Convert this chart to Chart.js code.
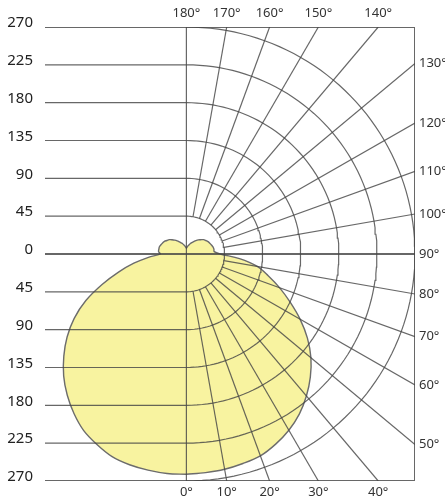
<!DOCTYPE html>
<html>
<head>
<meta charset="utf-8">
<script src="https://cdn.jsdelivr.net/npm/chart.js@4.4.1/dist/chart.umd.min.js"></script>
<style>
  html, body { margin: 0; padding: 0; background: #fff; }
  #contenedor { width: 445px; height: 501px; }
</style>
</head>
<body>
<div id="contenedor"><canvas id="grafico"></canvas></div>
<script>
// Angulos gamma (0 = hacia abajo, 180 = hacia arriba)
const angulos = [0, 5, 10, 15, 20, 25, 30, 35, 40, 45, 50, 55, 60, 65, 70, 75, 80, 85, 90,
                 95, 100, 105, 110, 115, 120, 125, 130, 135, 140, 145, 150, 155, 160, 165, 170, 175, 180];
const planoIzq = [262, 262, 261, 259.5, 256.5, 250, 242.5, 231.5, 219, 205, 189, 172, 153, 131, 106, 83, 63, 45, 31,
                  33, 33, 33, 32, 31, 30, 28, 26.5, 24, 21.5, 19, 16.5, 14.5, 13, 11, 9.5, 8, 7];
const planoDer = [262, 261, 260, 258, 255.5, 249.5, 242, 232.5, 220.5, 207, 192, 174.5, 155, 135, 117, 100, 85, 63, 40,
                  33, 33, 32.5, 31.5, 30.5, 29.5, 28, 26.5, 24, 22, 19.5, 17, 15, 13, 11, 9.5, 8, 7];

// Escala y rejilla
const anillos = [45, 90, 135, 180, 225, 270];
const radiales = [10, 20, 30, 40, 50, 60, 70, 80, 100, 110, 120, 130, 140, 150, 160, 170];
const marcasY = [-270, -225, -180, -135, -90, -45, 0, 45, 90, 135, 180, 225, 270];
const angulosAbajo = [0, 10, 20, 30, 40];
const angulosArriba = [180, 170, 160, 150, 140];
const angulosDerecha = [130, 120, 110, 100, 90, 80, 70, 60, 50];

const rMax = 270;
const xMin = -167;
const rad = Math.PI / 180;

function polar(r, a, lado) {
    return { x: lado * r * Math.sin(a * rad), y: -r * Math.cos(a * rad) };
}

function linea(puntos, ancho) {
    return {
        data: puntos,
        showLine: true,
        borderColor: 'rgba(70,70,70,0.82)',
        borderWidth: ancho,
        pointRadius: 0,
        fill: false,
        order: 1
    };
}

const datasets = [];

// Curva de distribucion (cerrada)
const curva = [];
angulos.forEach((a, i) => curva.push(polar(planoDer[i], a, 1)));
for (let i = angulos.length - 1; i >= 0; i--) curva.push(polar(planoIzq[i], angulos[i], -1));
datasets.push({
    data: curva,
    showLine: true,
    tension: 0.35,
    borderColor: '#6c6c6c',
    borderWidth: 1.4,
    backgroundColor: '#f8f3a0',
    fill: 'shape',
    pointRadius: 0,
    order: 5
});

// Arcos en la mitad derecha
anillos.forEach(r => {
    const pts = [];
    for (let a = 0; a <= 180; a += 2) pts.push(polar(r, a, 1));
    datasets.push(linea(pts, 1.2));
});

// Lineas radiales desde el primer anillo hasta el borde
radiales.forEach(a => {
    const s = Math.sin(a * rad), c = Math.abs(Math.cos(a * rad));
    const t = Math.min(rMax / s, c > 1e-9 ? rMax / c : Infinity);
    datasets.push(linea([polar(anillos[0], a, 1), polar(t, a, 1)], 1.2));
});

// Horizontales en la mitad izquierda
marcasY.filter(v => v !== 0 && Math.abs(v) !== rMax).forEach(v => {
    datasets.push(linea([{ x: xMin, y: v }, { x: 0, y: v }], 1.2));
});

// Eje vertical, linea de 0 y marco
datasets.push(linea([{ x: 0, y: -rMax }, { x: 0, y: rMax }], 1.2));
datasets.push(linea([{ x: xMin, y: 0 }, { x: rMax, y: 0 }], 2.2));
datasets.push(linea([{ x: xMin, y: rMax }, { x: rMax, y: rMax }, { x: rMax, y: -rMax }, { x: xMin, y: -rMax }], 2));

// lineHeight pequeño + segunda linea vacia: sube la etiqueta unos px sobre su linea
const fuenteNum = { family: "'Noto Sans', 'DejaVu Sans'", size: 15, lineHeight: '8px' };
const fuenteAng = { family: "'Noto Sans', 'DejaVu Sans'", size: 13 };

function ejeOculto(extra) {
    return Object.assign({
        type: 'linear',
        grid: { display: false, drawTicks: false },
        border: { display: false }
    }, extra);
}

new Chart(document.getElementById('grafico'), {
    type: 'scatter',
    data: { datasets: datasets },
    options: {
        responsive: true,
        maintainAspectRatio: false,
        animation: false,
        layout: { padding: 0 },
        plugins: { legend: { display: false }, tooltip: { enabled: false } },
        scales: {
            x: ejeOculto({
                position: 'bottom', min: xMin, max: rMax,
                afterBuildTicks: s => { s.ticks = angulosAbajo.map(a => ({ value: rMax * Math.tan(a * rad) })); },
                afterFit: s => { s.height = 17; },
                ticks: { autoSkip: false, maxRotation: 0, padding: 3, color: '#333', font: fuenteAng,
                         callback: (v, i) => angulosAbajo[i] + '°' }
            }),
            xArriba: ejeOculto({
                axis: 'x', position: 'top', min: xMin, max: rMax,
                afterBuildTicks: s => { s.ticks = angulosArriba.map(a => ({ value: rMax * Math.tan((180 - a) * rad) })); },
                afterFit: s => { s.height = 27; },
                ticks: { autoSkip: false, maxRotation: 0, padding: 6, color: '#333', font: fuenteAng,
                         callback: (v, i) => angulosArriba[i] + '°' }
            }),
            y: ejeOculto({
                position: 'left', min: -rMax, max: rMax,
                afterBuildTicks: s => { s.ticks = marcasY.map(v => ({ value: v })); },
                afterFit: s => { s.width = 45; },
                ticks: { autoSkip: false, padding: 12, color: '#222', font: fuenteNum,
                         callback: v => [String(Math.abs(v)), ''] }
            }),
            yDerecha: ejeOculto({
                axis: 'y', position: 'right', min: -rMax, max: rMax,
                afterBuildTicks: s => { s.ticks = angulosDerecha.map(a => ({ value: rMax * Math.tan((a - 90) * rad) })); },
                afterFit: s => { s.width = 30; },
                ticks: { autoSkip: false, padding: 4, color: '#333', font: fuenteAng,
                         callback: (v, i) => angulosDerecha[i] + '°' }
            })
        }
    }
});
</script>
</body>
</html>
